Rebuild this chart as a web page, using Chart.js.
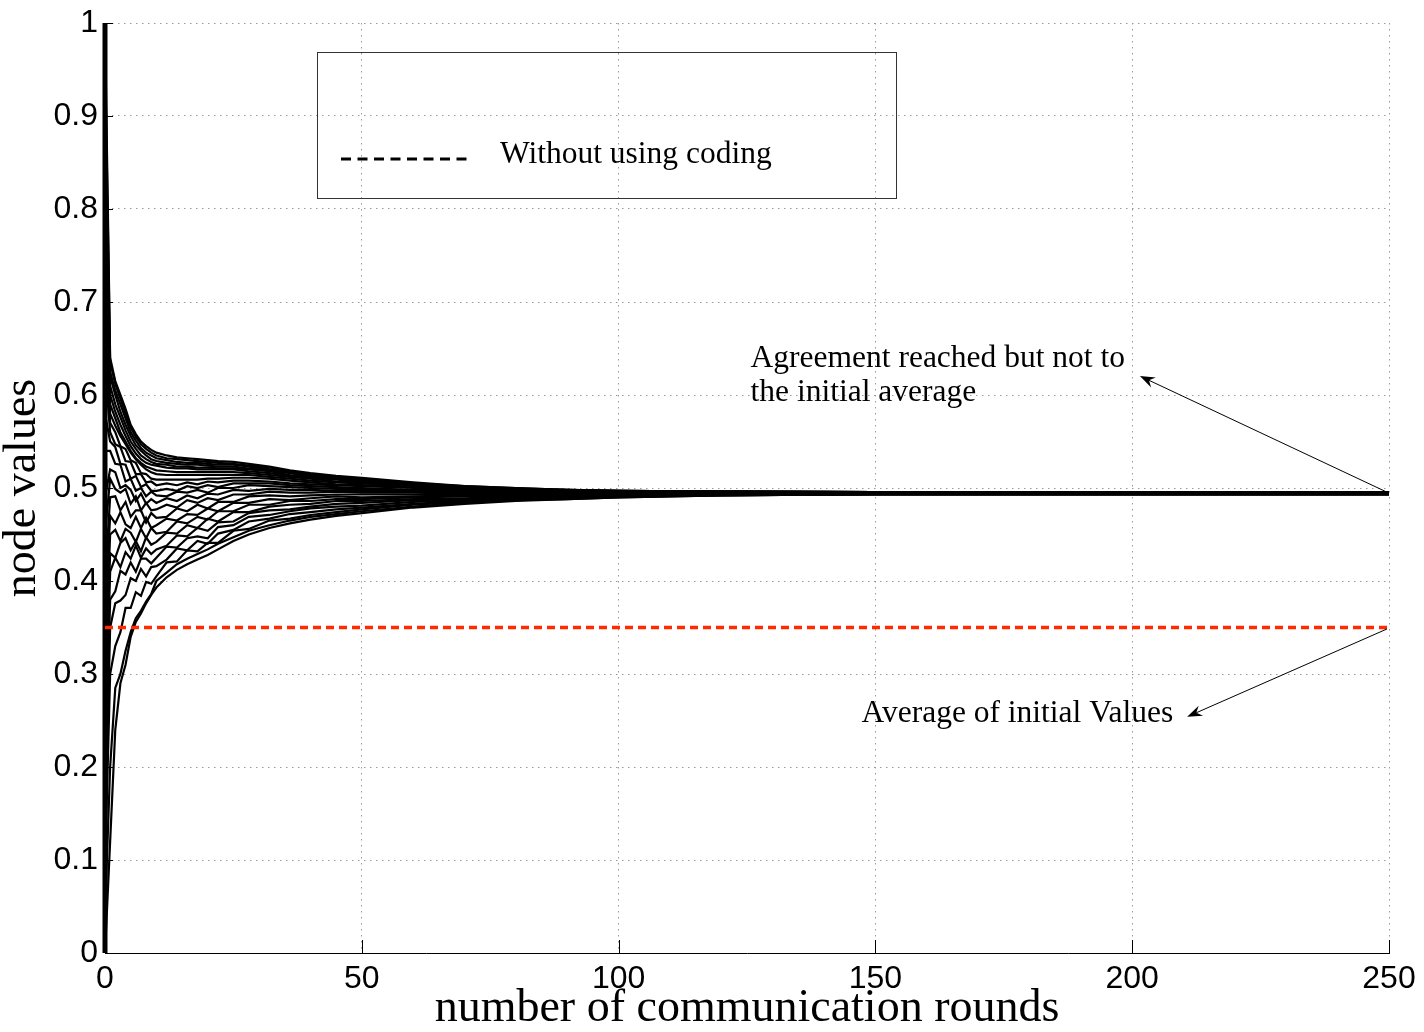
<!DOCTYPE html>
<html>
<head>
<meta charset="utf-8">
<script src="https://cdn.jsdelivr.net/npm/chart.js@4.4.1/dist/chart.umd.min.js"></script>
<style>
  html, body { margin: 0; padding: 0; background: #fff; }
  #wrap { width: 1424px; height: 1032px; }
</style>
</head>
<body>
<div id="wrap"><canvas id="consensusChart" width="1424" height="1032"></canvas></div>
<script>
const rounds = [0, 1, 2, 3, 4, 5, 6, 7, 8, 9, 10, 12, 14, 16, 18, 20, 22, 25, 28, 32, 36, 40, 45, 50, 60, 70, 80, 90, 100, 120, 150, 200, 250];

// one row per node, lowest trajectory first
const nodeSeries = [
  [0.00, 0.12, 0.24, 0.29, 0.31, 0.34, 0.356, 0.365, 0.376, 0.385, 0.393, 0.404, 0.412, 0.418, 0.423, 0.428, 0.434, 0.443, 0.450, 0.457, 0.462, 0.466, 0.470, 0.473, 0.479, 0.483, 0.486, 0.488, 0.490, 0.492, 0.4935, 0.4935, 0.4935],
  [0.04, 0.20, 0.285, 0.30, 0.325, 0.345, 0.36, 0.368, 0.378, 0.386, 0.400, 0.409, 0.418, 0.424, 0.429, 0.434, 0.440, 0.447, 0.454, 0.460, 0.465, 0.469, 0.472, 0.475, 0.480, 0.484, 0.487, 0.488, 0.490, 0.492, 0.4935, 0.4935, 0.4935],
  [0.09, 0.30, 0.33, 0.345, 0.371, 0.371, 0.388, 0.384, 0.399, 0.397, 0.405, 0.420, 0.421, 0.433, 0.432, 0.441, 0.441, 0.454, 0.456, 0.465, 0.467, 0.471, 0.474, 0.477, 0.482, 0.485, 0.487, 0.489, 0.491, 0.492, 0.4935, 0.4935, 0.4935],
  [0.13, 0.35, 0.376, 0.379, 0.385, 0.403, 0.400, 0.413, 0.405, 0.415, 0.416, 0.423, 0.435, 0.433, 0.443, 0.440, 0.451, 0.455, 0.464, 0.467, 0.472, 0.474, 0.477, 0.479, 0.483, 0.486, 0.488, 0.490, 0.491, 0.493, 0.4935, 0.4935, 0.4935],
  [0.18, 0.38, 0.389, 0.411, 0.407, 0.420, 0.410, 0.424, 0.424, 0.419, 0.425, 0.437, 0.436, 0.446, 0.448, 0.446, 0.458, 0.460, 0.469, 0.471, 0.475, 0.478, 0.480, 0.481, 0.485, 0.487, 0.489, 0.490, 0.492, 0.493, 0.4935, 0.4935, 0.4935],
  [0.22, 0.41, 0.425, 0.415, 0.431, 0.424, 0.438, 0.425, 0.435, 0.429, 0.434, 0.438, 0.449, 0.448, 0.457, 0.454, 0.463, 0.464, 0.473, 0.476, 0.477, 0.480, 0.483, 0.484, 0.487, 0.488, 0.490, 0.491, 0.492, 0.493, 0.4935, 0.4935, 0.4935],
  [0.27, 0.43, 0.425, 0.441, 0.446, 0.433, 0.443, 0.432, 0.447, 0.439, 0.442, 0.452, 0.451, 0.460, 0.457, 0.467, 0.464, 0.474, 0.474, 0.480, 0.482, 0.483, 0.486, 0.486, 0.488, 0.489, 0.491, 0.491, 0.492, 0.493, 0.4935, 0.4935, 0.4935],
  [0.31, 0.45, 0.455, 0.443, 0.456, 0.452, 0.442, 0.456, 0.446, 0.457, 0.451, 0.453, 0.464, 0.462, 0.469, 0.466, 0.475, 0.475, 0.482, 0.482, 0.486, 0.486, 0.488, 0.488, 0.490, 0.491, 0.492, 0.492, 0.493, 0.494, 0.4935, 0.4935, 0.4935],
  [0.36, 0.47, 0.462, 0.474, 0.461, 0.457, 0.469, 0.457, 0.468, 0.457, 0.460, 0.467, 0.465, 0.472, 0.471, 0.478, 0.475, 0.484, 0.484, 0.488, 0.487, 0.489, 0.491, 0.490, 0.491, 0.492, 0.492, 0.493, 0.493, 0.494, 0.4945, 0.4945, 0.4945],
  [0.40, 0.49, 0.491, 0.476, 0.485, 0.469, 0.476, 0.476, 0.463, 0.473, 0.468, 0.469, 0.478, 0.475, 0.482, 0.478, 0.485, 0.485, 0.491, 0.492, 0.491, 0.492, 0.493, 0.493, 0.493, 0.493, 0.493, 0.493, 0.494, 0.494, 0.4945, 0.4945, 0.4945],
  [0.45, 0.51, 0.499, 0.495, 0.499, 0.483, 0.491, 0.476, 0.484, 0.476, 0.477, 0.482, 0.479, 0.487, 0.484, 0.489, 0.487, 0.493, 0.493, 0.496, 0.495, 0.495, 0.496, 0.495, 0.495, 0.494, 0.494, 0.494, 0.494, 0.494, 0.4945, 0.4945, 0.4945],
  [0.49, 0.52, 0.517, 0.500, 0.503, 0.498, 0.486, 0.494, 0.483, 0.488, 0.484, 0.489, 0.486, 0.492, 0.489, 0.494, 0.493, 0.498, 0.497, 0.499, 0.498, 0.498, 0.497, 0.497, 0.496, 0.495, 0.495, 0.494, 0.494, 0.494, 0.4945, 0.4945, 0.4945],
  [0.54, 0.54, 0.526, 0.525, 0.507, 0.510, 0.497, 0.500, 0.491, 0.496, 0.492, 0.491, 0.496, 0.495, 0.498, 0.495, 0.500, 0.500, 0.503, 0.502, 0.501, 0.500, 0.499, 0.499, 0.497, 0.496, 0.496, 0.495, 0.495, 0.495, 0.4945, 0.4945, 0.4945],
  [0.58, 0.55, 0.544, 0.526, 0.525, 0.510, 0.513, 0.501, 0.504, 0.497, 0.497, 0.499, 0.497, 0.502, 0.500, 0.503, 0.501, 0.505, 0.505, 0.505, 0.503, 0.502, 0.501, 0.500, 0.498, 0.497, 0.496, 0.495, 0.495, 0.495, 0.4945, 0.4945, 0.4945],
  [0.63, 0.56, 0.547, 0.544, 0.529, 0.528, 0.515, 0.515, 0.506, 0.507, 0.503, 0.505, 0.503, 0.506, 0.504, 0.507, 0.506, 0.508, 0.508, 0.507, 0.505, 0.504, 0.503, 0.502, 0.500, 0.497, 0.497, 0.496, 0.495, 0.495, 0.4945, 0.4945, 0.4945],
  [0.67, 0.57, 0.560, 0.545, 0.542, 0.530, 0.527, 0.516, 0.515, 0.510, 0.509, 0.509, 0.509, 0.509, 0.509, 0.510, 0.510, 0.511, 0.511, 0.510, 0.508, 0.506, 0.504, 0.503, 0.501, 0.498, 0.497, 0.496, 0.496, 0.495, 0.4945, 0.4945, 0.4945],
  [0.72, 0.58, 0.567, 0.556, 0.547, 0.538, 0.531, 0.525, 0.520, 0.517, 0.515, 0.514, 0.514, 0.514, 0.514, 0.514, 0.514, 0.514, 0.514, 0.512, 0.510, 0.508, 0.506, 0.505, 0.502, 0.499, 0.498, 0.496, 0.496, 0.495, 0.4955, 0.4955, 0.4955],
  [0.76, 0.59, 0.575, 0.56, 0.55, 0.54, 0.532, 0.527, 0.523, 0.521, 0.519, 0.518, 0.517, 0.517, 0.517, 0.517, 0.517, 0.517, 0.516, 0.514, 0.512, 0.510, 0.507, 0.506, 0.502, 0.500, 0.498, 0.497, 0.496, 0.495, 0.4955, 0.4955, 0.4955],
  [0.81, 0.60, 0.582, 0.568, 0.556, 0.545, 0.537, 0.531, 0.527, 0.525, 0.524, 0.522, 0.521, 0.521, 0.520, 0.520, 0.520, 0.520, 0.518, 0.516, 0.513, 0.511, 0.509, 0.507, 0.503, 0.500, 0.499, 0.497, 0.496, 0.496, 0.4955, 0.4955, 0.4955],
  [0.85, 0.61, 0.59, 0.576, 0.562, 0.55, 0.542, 0.535, 0.531, 0.528, 0.526, 0.525, 0.523, 0.523, 0.522, 0.522, 0.521, 0.521, 0.520, 0.518, 0.514, 0.512, 0.510, 0.508, 0.504, 0.500, 0.499, 0.497, 0.496, 0.496, 0.4955, 0.4955, 0.4955],
  [0.89, 0.62, 0.60, 0.582, 0.568, 0.556, 0.546, 0.54, 0.535, 0.531, 0.529, 0.527, 0.526, 0.525, 0.525, 0.524, 0.523, 0.523, 0.521, 0.519, 0.516, 0.513, 0.510, 0.509, 0.504, 0.501, 0.499, 0.497, 0.497, 0.496, 0.4955, 0.4955, 0.4955],
  [0.93, 0.625, 0.605, 0.59, 0.575, 0.56, 0.551, 0.543, 0.538, 0.535, 0.532, 0.530, 0.528, 0.527, 0.527, 0.526, 0.525, 0.525, 0.523, 0.520, 0.517, 0.514, 0.511, 0.509, 0.505, 0.501, 0.499, 0.498, 0.497, 0.496, 0.4955, 0.4955, 0.4955],
  [0.97, 0.635, 0.612, 0.596, 0.58, 0.565, 0.555, 0.547, 0.542, 0.538, 0.535, 0.532, 0.531, 0.530, 0.529, 0.528, 0.527, 0.526, 0.524, 0.522, 0.518, 0.515, 0.512, 0.510, 0.505, 0.502, 0.500, 0.498, 0.497, 0.496, 0.4955, 0.4955, 0.4955],
  [1.00, 0.64, 0.615, 0.60, 0.585, 0.568, 0.558, 0.55, 0.545, 0.541, 0.538, 0.535, 0.533, 0.532, 0.531, 0.530, 0.529, 0.528, 0.526, 0.523, 0.519, 0.516, 0.513, 0.511, 0.506, 0.502, 0.500, 0.498, 0.497, 0.496, 0.4955, 0.4955, 0.4955]
];

const initialAverage = 0.35;
const xTicks = [0, 50, 100, 150, 200, 250];
const yTicks = [0, 0.1, 0.2, 0.3, 0.4, 0.5, 0.6, 0.7, 0.8, 0.9, 1];

const legendLabel = 'Without using coding';
const agreementNote = ['Agreement reached but not to', 'the initial average'];
const averageNote = 'Average of initial Values';

const SERIF = "'Liberation Serif', 'Times New Roman', serif";
const SANS = "'Liberation Sans', Arial, sans-serif";

function drawArrow(ctx, x1, y1, x2, y2) {
  const a = Math.atan2(y2 - y1, x2 - x1);
  const c = Math.cos(a), s = Math.sin(a);
  const len = 15, half = 5.5, notch = 10;
  ctx.beginPath();
  ctx.moveTo(x1, y1);
  ctx.lineTo(x2 - c * notch, y2 - s * notch);
  ctx.stroke();
  ctx.beginPath();
  ctx.moveTo(x2, y2);
  ctx.lineTo(x2 - len * c + half * s, y2 - len * s - half * c);
  ctx.lineTo(x2 - notch * c, y2 - notch * s);
  ctx.lineTo(x2 - len * c - half * s, y2 - len * s + half * c);
  ctx.closePath();
  ctx.fill();
}

// inward ticks, legend box and the two notes with arrows
const decor = {
  id: 'decor',
  afterDraw(chart) {
    const { ctx, chartArea: a, scales: { x, y } } = chart;
    ctx.save();
    ctx.strokeStyle = '#000';
    ctx.fillStyle = '#000';
    ctx.lineWidth = 1;

    ctx.beginPath();
    yTicks.forEach(v => {
      const py = Math.round(y.getPixelForValue(v)) + 0.5;
      ctx.moveTo(a.left, py); ctx.lineTo(a.left + 8, py);
    });
    xTicks.forEach(v => {
      const px = Math.round(x.getPixelForValue(v)) + 0.5;
      ctx.moveTo(px, a.bottom); ctx.lineTo(px, a.bottom - 13);
    });
    ctx.stroke();

    // legend
    const lx = a.left + 212, ly = a.top + 29;
    ctx.strokeStyle = '#333';
    ctx.strokeRect(lx + 0.5, ly + 0.5, 579, 146);
    ctx.strokeStyle = '#000';
    ctx.lineWidth = 3;
    ctx.setLineDash([10, 6.5]);
    ctx.beginPath();
    ctx.moveTo(lx + 24, ly + 107); ctx.lineTo(lx + 156, ly + 107);
    ctx.stroke();
    ctx.setLineDash([]);
    ctx.font = '31.5px ' + SERIF;
    ctx.textBaseline = 'alphabetic';
    ctx.textAlign = 'left';
    ctx.fillText(legendLabel, lx + 183, ly + 111);

    // notes
    ctx.lineWidth = 1;
    ctx.fillText(agreementNote[0], x.getPixelForValue(125.7), y.getPixelForValue(0.630));
    ctx.fillText(agreementNote[1], x.getPixelForValue(125.7), y.getPixelForValue(0.5935));
    ctx.fillText(averageNote, x.getPixelForValue(147.3), y.getPixelForValue(0.2487));
    drawArrow(ctx, x.getPixelForValue(250), y.getPixelForValue(0.4945), x.getPixelForValue(201.5), y.getPixelForValue(0.6204));
    drawArrow(ctx, x.getPixelForValue(249.6), y.getPixelForValue(0.3484), x.getPixelForValue(210.7), y.getPixelForValue(0.254));
    ctx.restore();
  }
};

const initialSpread = nodeSeries.map(v => v[0]).sort((p, q) => p - q);

const datasets = [{
  label: 'Average of initial values',
  data: [{ x: rounds[0], y: initialAverage }, { x: rounds[rounds.length - 1], y: initialAverage }],
  borderColor: '#ff2a00',
  borderWidth: 3.5,
  borderDash: [8, 5],
  pointRadius: 0,
  order: 0
}, {
  label: 'initial values',
  data: initialSpread.map(v => ({ x: rounds[0], y: v })),
  borderColor: '#000',
  borderWidth: 5,
  pointRadius: 0,
  clip: false,
  order: 1
}].concat(nodeSeries.map((vals, i) => ({
  label: 'node ' + (i + 1),
  data: vals.map((v, k) => ({ x: rounds[k], y: v })),
  borderColor: '#000',
  borderWidth: 2.2,
  pointRadius: 0,
  tension: 0,
  order: 1
})));

new Chart(document.getElementById('consensusChart').getContext('2d'), {
  type: 'line',
  data: { datasets },
  options: {
    responsive: false,
    animation: false,
    devicePixelRatio: 1,
    layout: { padding: { top: 23, right: 35, left: 0, bottom: 0 } },
    plugins: { legend: { display: false }, tooltip: { enabled: false } },
    scales: {
      x: {
        type: 'linear', min: 0, max: 250,
        afterFit: s => { s.height = 79; s.paddingLeft = 0; s.paddingRight = 0; },
        afterBuildTicks: s => { s.ticks = xTicks.map(v => ({ value: v })); },
        grid: { color: '#999', lineWidth: 1, drawTicks: false },
        border: { display: true, color: '#000', width: 1, dash: [1.5, 4.5] },
        ticks: { color: '#000', font: { family: SANS, size: 32 }, padding: 7, maxRotation: 0, autoSkip: false, callback: v => String(v) },
        title: { display: true, text: 'number of communication rounds', color: '#000', font: { family: SERIF, size: 46, lineHeight: 1 }, padding: 0 }
      },
      y: {
        type: 'linear', min: 0, max: 1,
        afterFit: s => { s.width = 105; s.paddingTop = 0; s.paddingBottom = 0; },
        afterBuildTicks: s => { s.ticks = yTicks.map(v => ({ value: v })); },
        grid: { color: '#999', lineWidth: 1, drawTicks: false },
        border: { display: true, color: '#000', width: 1, dash: [1.5, 4.5] },
        ticks: { color: '#000', font: { family: SANS, size: 32 }, padding: 7, autoSkip: false, callback: v => String(v) },
        title: { display: true, text: 'node values', color: '#000', font: { family: SERIF, size: 46, lineHeight: 1 }, padding: 0 }
      }
    }
  },
  plugins: [decor]
});
</script>
</body>
</html>
